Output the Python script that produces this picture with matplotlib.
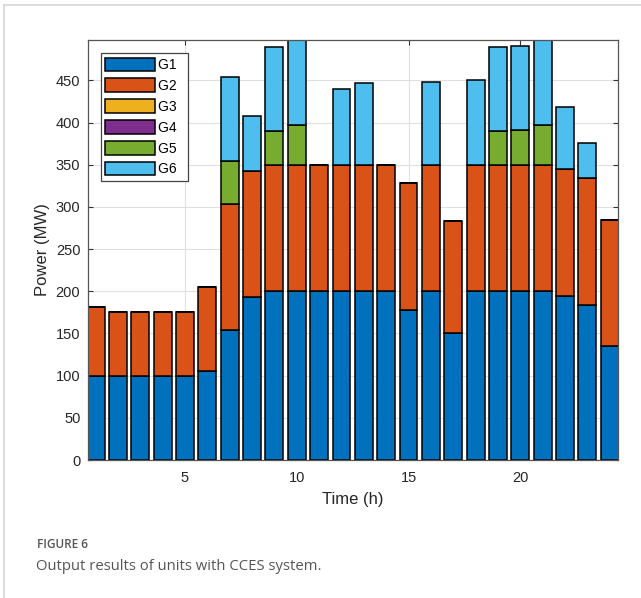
import matplotlib
matplotlib.use("Agg")
import matplotlib.pyplot as plt
import numpy as np
from matplotlib.lines import Line2D

hours = list(range(1, 25))
G1 = [100, 100, 100, 100, 100, 105, 154, 193, 200, 200, 200, 200,
      200, 200, 178, 200, 150, 200, 200, 200, 200, 195, 184, 135]
G2 = [82, 75, 75, 75, 75, 100, 150, 150, 150, 150, 150, 150,
      150, 150, 150, 150, 133, 150, 150, 150, 150, 150, 150, 150]
G3 = [0] * 24
G4 = [0] * 24
G5 = [0, 0, 0, 0, 0, 0, 50, 0, 40, 47, 0, 0,
      0, 0, 0, 0, 0, 0, 40, 41, 47, 0, 0, 0]
G6 = [0, 0, 0, 0, 0, 0, 100, 65, 100, 105, 0, 90,
      97, 0, 0, 98, 0, 100, 100, 100, 105, 73, 42, 0]
series = [("G1", G1), ("G2", G2), ("G3", G3), ("G4", G4), ("G5", G5), ("G6", G6)]
colors = ["#0072BD", "#D95319", "#EDB120", "#7E2F8E", "#77AC30", "#4DBEEE"]
yticks = [0, 50, 100, 150, 200, 250, 300, 350, 400, 450]
xticks = [5, 10, 15, 20]

plt.rcParams['font.family'] = ['Liberation Sans', 'DejaVu Sans']

fig = plt.figure(figsize=(6.41, 5.98), dpi=100)
# card border lines
fig.add_artist(Line2D([4/641, 4/641], [0, 1 - 5/598], transform=fig.transFigure,
                      color="#d6d6d6", lw=1.2))
fig.add_artist(Line2D([4/641, 1], [1 - 5/598, 1 - 5/598], transform=fig.transFigure,
                      color="#d6d6d6", lw=1.2))

ax = fig.add_axes([88/641, 1 - 460/598, 530/641, 420/598])
ax.set_axisbelow(True)
ax.grid(True, color="#e0e0e0", lw=0.8)

bottom = np.zeros(24)
for (name, vals), c in zip(series, colors):
    v = np.array(vals, dtype=float)
    ax.bar(hours, v, width=0.8, bottom=bottom, color=c, edgecolor="black",
           linewidth=1.1, label=name)
    bottom += v

ax.set_xlim(0.66, 24.37)
ax.set_ylim(0, 498)
ax.set_yticks(yticks)
ax.set_xticks(xticks)
ax.tick_params(direction="in", top=True, right=True, length=3.5, width=0.8,
               colors="#333333", labelsize=10.5, labelcolor="#262626")
ax.tick_params(axis="y", pad=5.5)
ax.tick_params(axis="x", pad=8)
for s in ax.spines.values():
    s.set_color("#555555")
    s.set_linewidth(0.9)

ax.set_xlabel("Time (h)", fontsize=12, color="#262626", labelpad=5)
ax.set_ylabel("Power (MW)", fontsize=12, color="#262626", labelpad=4)

leg = ax.legend(loc="upper left", bbox_to_anchor=(0.024, 0.968), fontsize=10,
                handlelength=3.6, handleheight=1.12, labelspacing=0.46,
                handletextpad=0.2, borderpad=0.3, borderaxespad=0,
                fancybox=False, framealpha=1, edgecolor="#444444")
leg.get_frame().set_linewidth(0.9)
for t in leg.get_texts():
    t.set_text(t.get_text() + "  ")

fig.text(37/641, 1 - 545/598, "FIGURE 6", fontsize=8.5, color="#555555",
         family=["Open Sans", "DejaVu Sans"], fontweight="semibold", va="center")
fig.text(36/641, 1 - 567/598, "Output results of units with CCES system.", fontsize=10.7,
         color="#555555", family=["Open Sans", "DejaVu Sans"], va="center")

fig.savefig("out.png", dpi=100)
